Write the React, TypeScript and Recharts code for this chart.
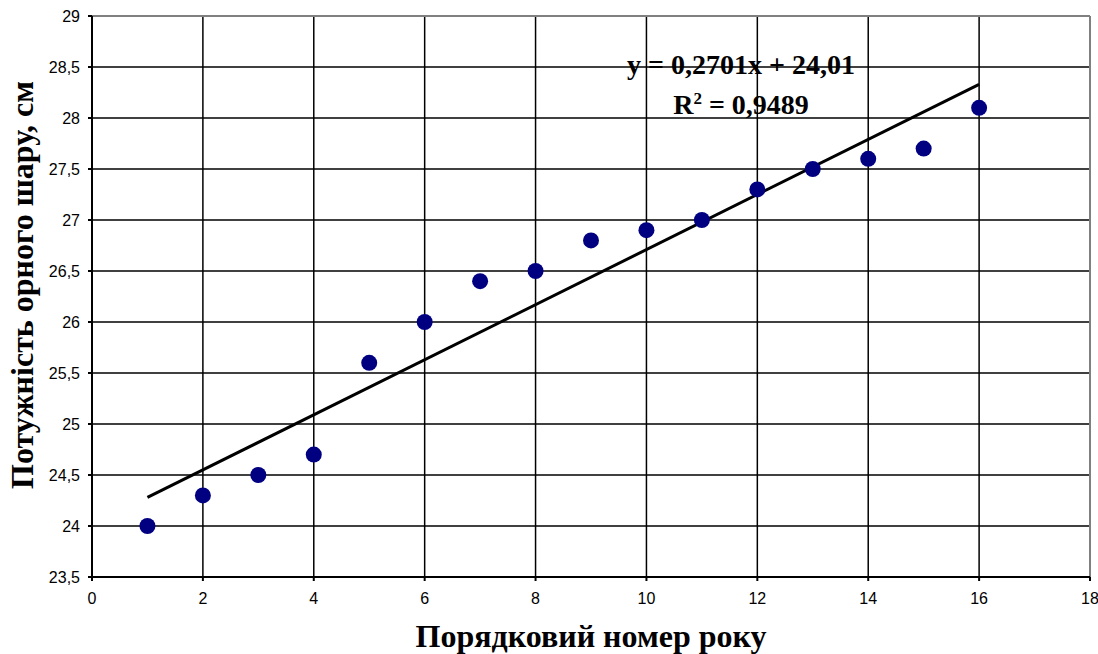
import {
  CartesianGrid,
  ComposedChart,
  Label,
  ReferenceLine,
  Scatter,
  XAxis,
  YAxis,
} from "recharts";

const years = [1, 2, 3, 4, 5, 6, 7, 8, 9, 10, 11, 12, 13, 14, 15, 16];
const depth = [24.0, 24.3, 24.5, 24.7, 25.6, 26.0, 26.4, 26.5, 26.8, 26.9, 27.0, 27.3, 27.5, 27.6, 27.7, 28.1];
const trendX = [1, 16];
const trendY = [24.28, 28.33];
const xTicks = [0, 2, 4, 6, 8, 10, 12, 14, 16, 18];
const yTicks = [23.5, 24, 24.5, 25, 25.5, 26, 26.5, 27, 27.5, 28, 28.5, 29];

const points = years.map((x, i) => ({ x, y: depth[i] }));
const trend = trendX.map((x, i) => ({ x, y: trendY[i] }));

const fmt = (v: number) => String(v).replace(".", ",");

const tickStyle = { fill: "#000", fontSize: 16, fontFamily: "Liberation Sans, Arial, sans-serif" };
const titleFont = "Liberation Serif, Times New Roman, serif";

export default function App() {
  return (
    <div style={{ position: "absolute", left: 0, top: 0, width: 1098, height: 654, background: "#fff" }}>
      <ComposedChart
        width={1098}
        height={654}
        margin={{ top: 16, right: 8, bottom: 0, left: 0 }}
      >
        <CartesianGrid stroke="#000" strokeWidth={1.5} />
        <XAxis
          type="number"
          dataKey="x"
          domain={[0, 18]}
          ticks={xTicks}
          height={77}
          tick={tickStyle}
          tickSize={4}
          tickMargin={12}
          stroke="#000"
          strokeWidth={2}
          tickFormatter={fmt}
        >
          <Label
            value="Порядковий номер року"
            position="insideBottom"
            offset={7}
            style={{ fontFamily: titleFont, fontWeight: "bold", fontSize: 32, fill: "#000" }}
          />
        </XAxis>
        <YAxis
          type="number"
          dataKey="y"
          domain={[23.5, 29]}
          ticks={yTicks}
          width={92}
          tick={tickStyle}
          tickSize={4}
          tickMargin={8}
          stroke="#000"
          strokeWidth={2}
          tickFormatter={fmt}
        />
        <ReferenceLine y={29} stroke="#808080" strokeWidth={2} />
        <ReferenceLine x={18} stroke="#808080" strokeWidth={2} />
        <Scatter
          data={trend}
          line={{ stroke: "#000", strokeWidth: 3 }}
          shape={() => null}
          isAnimationActive={false}
        />
        <Scatter
          data={points}
          fill="#000080"
          shape={(p: any) => <circle cx={p.cx} cy={p.cy} r={8} fill="#000080" />}
          isAnimationActive={false}
        />
      </ComposedChart>
      <svg width={60} height={654} style={{ position: "absolute", left: 0, top: 0 }}>
        <text
          x={0}
          y={0}
          transform="translate(33, 285) rotate(-90)"
          textAnchor="middle"
          fontFamily={titleFont}
          fontWeight="bold"
          fontSize={32}
          fill="#000"
        >
          Потужність орного шару, см
        </text>
      </svg>
      <div
        style={{
          position: "absolute",
          left: 741,
          top: 45,
          transform: "translateX(-50%)",
          whiteSpace: "nowrap",
          fontFamily: titleFont,
          fontWeight: "bold",
          fontSize: 28,
          lineHeight: "40px",
          textAlign: "center",
          color: "#000",
        }}
      >
        y = 0,2701x + 24,01
        <br />
        R<sup style={{ fontSize: 17, verticalAlign: "top", position: "relative", top: -6 }}>2</sup> = 0,9489
      </div>
    </div>
  );
}
